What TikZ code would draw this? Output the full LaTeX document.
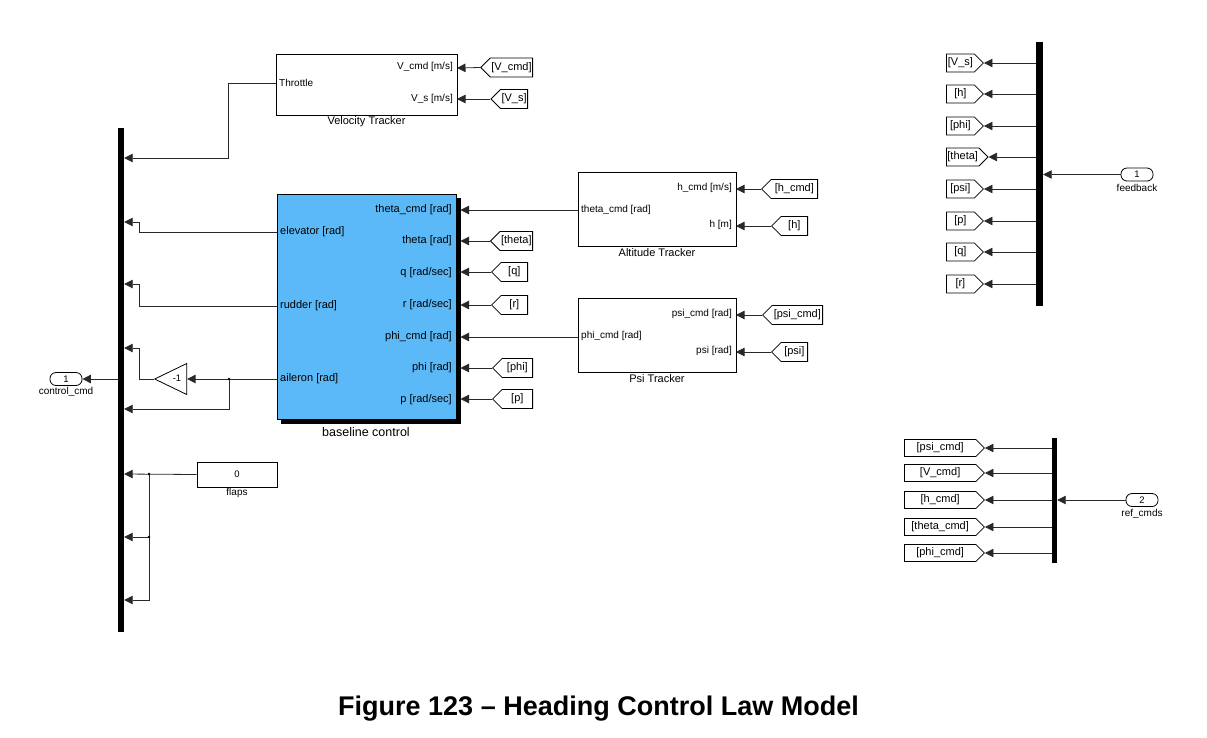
\documentclass[tikz,border=0pt]{standalone}
\usepackage{fontspec}
\setmainfont{Liberation Sans}
\usetikzlibrary{arrows.meta,shapes.symbols,shapes.geometric}
\definecolor{bcblue}{RGB}{92,185,248}
\definecolor{wire}{RGB}{40,40,40}
\begin{document}
\begin{tikzpicture}[x=1pt,y=-1pt,
  sig/.style={draw=wire,line width=0.8pt,-{Triangle[length=8.5pt,width=8.5pt]}},
  blk/.style={draw,line width=0.8pt,inner sep=0pt},
  bar/.style={fill=black,inner sep=0pt},
  small/.style={inner sep=1pt,font=\fontsize{10}{12}\selectfont},
  big/.style={inner sep=1pt,font=\fontsize{11}{13}\selectfont},
  lbl/.style={inner sep=1pt,font=\fontsize{11}{13}\selectfont},
  fromtag/.style={signal,signal to=west,signal from=nowhere,signal pointer angle=90,draw,line width=0.8pt,
     inner xsep=1pt,inner ysep=0pt,minimum height=19pt,font=\fontsize{11}{12}\selectfont,anchor=east},
  gototag/.style={signal,signal to=east,signal from=nowhere,signal pointer angle=90,draw,line width=0.8pt,
     inner xsep=1pt,inner ysep=0pt,minimum height=18pt,font=\fontsize{11}{12}\selectfont,anchor=west},
  port/.style={draw,line width=0.8pt,rounded corners=6pt,minimum width=32pt,minimum height=13pt,inner sep=0pt,
     font=\fontsize{9.5}{11}\selectfont}
]
\useasboundingbox (0,0) rectangle (1207,737);

% ---------- mux bars ----------
\node[bar,minimum width=6pt,minimum height=504pt] (mux1) at (121,380) {};
\node[bar,minimum width=7pt,minimum height=264pt] (mux2) at (1039.5,174) {};
\node[bar,minimum width=5pt,minimum height=125pt] (mux3) at (1054.5,500.5) {};

% ---------- Velocity Tracker ----------
\node[blk,minimum width=181pt,minimum height=61pt,anchor=north west] (vt) at (276,54) {};
\node[small,anchor=west] (vtl1) at (278,83) {Throttle};
\node[small,anchor=east] (vtl2) at (454,67) {V\_cmd [m/s]};
\node[small,anchor=east] (vtl3) at (454,99) {V\_s [m/s]};
\node[lbl] (vtn) at (366.5,121.5) {Velocity Tracker};
\coordinate (vtThr) at (276,83);
\coordinate (vtVc) at (457,68);
\coordinate (vtVs) at (457,99);

% ---------- baseline control ----------
\fill[black] (281,198) rectangle (460.5,423.5);
\node[blk,fill=bcblue,minimum width=179pt,minimum height=225pt,anchor=north west] (bc) at (277,194) {};
\node[big,anchor=east] (bl1) at (453,210) {theta\_cmd [rad]};
\node[big,anchor=east] (bl2) at (453,241) {theta [rad]};
\node[big,anchor=east] (bl3) at (453,272.5) {q [rad/sec]};
\node[big,anchor=east] (bl4) at (453,305) {r [rad/sec]};
\node[big,anchor=east] (bl5) at (453,336.5) {phi\_cmd [rad]};
\node[big,anchor=east] (bl6) at (453,368) {phi [rad]};
\node[big,anchor=east] (bl7) at (453,399.5) {p [rad/sec]};
\node[big,anchor=west] (bl8) at (279,231.5) {elevator [rad]};
\node[big,anchor=west] (bl9) at (279,305.5) {rudder [rad]};
\node[big,anchor=west] (bl10) at (279,378.5) {aileron [rad]};
\node[inner sep=1pt,font=\fontsize{12.5}{14}\selectfont] (bcn) at (366,432) {baseline control};
\coordinate (bcTc) at (460.5,210);
\coordinate (bcTh) at (460.5,241);
\coordinate (bcQ) at (460.5,272);
\coordinate (bcR) at (460.5,305);
\coordinate (bcPc) at (460.5,337);
\coordinate (bcPh) at (460.5,368);
\coordinate (bcP) at (460.5,399);
\coordinate (bcEl) at (277,232);
\coordinate (bcRu) at (277,306);
\coordinate (bcAi) at (277,379);

% ---------- Altitude Tracker ----------
\node[blk,minimum width=158pt,minimum height=74pt,anchor=north west] (at) at (578,172) {};
\node[small,anchor=east] (al1) at (733,188) {h\_cmd [m/s]};
\node[small,anchor=east] (al2) at (733,225) {h [m]};
\node[small,anchor=west] (al3) at (580,210) {theta\_cmd [rad]};
\node[lbl] (atn) at (657,252.5) {Altitude Tracker};
\coordinate (atOut) at (578,210);
\coordinate (atHc) at (736,189);
\coordinate (atH) at (736,226);

% ---------- Psi Tracker ----------
\node[blk,minimum width=158pt,minimum height=74pt,anchor=north west] (pt) at (578,298) {};
\node[small,anchor=east] (pl1) at (733,314) {psi\_cmd [rad]};
\node[small,anchor=east] (pl2) at (733,351) {psi [rad]};
\node[small,anchor=west] (pl3) at (580,336) {phi\_cmd [rad]};
\node[lbl] (ptn) at (657,378.5) {Psi Tracker};
\coordinate (ptOut) at (578,337);
\coordinate (ptPc) at (736,315);
\coordinate (ptP) at (736,352);

% ---------- From tags ----------
\node[fromtag,minimum width=46pt] (fVc) at (533,67.5) {[V\_cmd]};
\node[fromtag,minimum width=36pt] (fVs) at (528,99) {[V\_s]};
\node[fromtag,minimum width=40pt] (fTh) at (533,241) {[theta]};
\node[fromtag,minimum width=36pt] (fQ) at (528,272) {[q]};
\node[fromtag,minimum width=36pt] (fR) at (528,305) {[r]};
\node[fromtag,minimum width=40pt] (fPh) at (533,368) {[phi]};
\node[fromtag,minimum width=40pt] (fP) at (533,399) {[p]};
\node[fromtag,minimum width=56pt] (fHc) at (818,189) {[h\_cmd]};
\node[fromtag,minimum width=36pt] (fH) at (808,226) {[h]};
\node[fromtag,minimum width=60pt] (fPc) at (823,315) {[psi\_cmd]};
\node[fromtag,minimum width=36pt] (fPs) at (808,352) {[psi]};

% ---------- Goto tags (feedback) ----------
\node[gototag,minimum width=37pt] (g1) at (946,63) {[V\_s]};
\node[gototag,minimum width=37pt] (g2) at (946,94) {[h]};
\node[gototag,minimum width=37pt] (g3) at (946,126) {[phi]};
\node[gototag,minimum width=37pt] (g4) at (946,157) {[theta]};
\node[gototag,minimum width=37pt] (g5) at (946,189) {[psi]};
\node[gototag,minimum width=37pt] (g6) at (946,221) {[p]};
\node[gototag,minimum width=37pt] (g7) at (946,252) {[q]};
\node[gototag,minimum width=37pt] (g8) at (946,284) {[r]};

% ---------- Goto tags (ref_cmds) ----------
\node[gototag,minimum width=80pt,minimum height=17pt] (r1) at (904,448) {[psi\_cmd]};
\node[gototag,minimum width=80pt,minimum height=17pt] (r2) at (904,473) {[V\_cmd]};
\node[gototag,minimum width=80pt,minimum height=17pt] (r3) at (904,500) {[h\_cmd]};
\node[gototag,minimum width=80pt,minimum height=17pt] (r4) at (904,527) {[theta\_cmd]};
\node[gototag,minimum width=80pt,minimum height=17pt] (r5) at (904,553) {[phi\_cmd]};

% ---------- ports ----------
\node[port] (cc) at (66,379) {1};
\node[lbl,font=\fontsize{10}{12}\selectfont] (ccn) at (66,392) {control\_cmd};
\node[port] (fb) at (1137,174.5) {1};
\node[lbl,font=\fontsize{10}{12}\selectfont] (fbn) at (1137,188) {feedback};
\node[port] (rc) at (1142,500) {2};
\node[lbl,font=\fontsize{10}{12}\selectfont] (rcn) at (1142,514) {ref\_cmds};

% ---------- gain and constant ----------
\node[isosceles triangle,shape border rotate=180,isosceles triangle stretches,draw,line width=0.8pt,
  minimum width=31pt,minimum height=32pt,inner sep=0pt] (gain) at (177,379) {};
\node[inner sep=0pt,font=\fontsize{9.5}{11}\selectfont] (gainl) at (177,378) {-1};
\node[blk,minimum width=80pt,minimum height=25pt,font=\fontsize{9.5}{11}\selectfont] (flaps) at (237,474.5) {0};
\node[lbl,font=\fontsize{10}{12}\selectfont] (flapsn) at (237,493) {flaps};

% ---------- mux input points ----------
\coordinate (m1a) at (mux1.east |- 0,158);
\coordinate (m1b) at (mux1.east |- 0,222);
\coordinate (m1c) at (mux1.east |- 0,284);
\coordinate (m1d) at (mux1.east |- 0,348);
\coordinate (m1e) at (mux1.east |- 0,409);
\coordinate (m1f) at (mux1.east |- 0,474);
\coordinate (m1g) at (mux1.east |- 0,537);
\coordinate (m1h) at (mux1.east |- 0,600);
\coordinate (m1o) at (mux1.west |- 0,379);

% ---------- connectors ----------
\draw[sig] (vtThr) -- (228,83) -- (228,158) -- (m1a);
\draw[sig] (bcEl) -- (139,232) -- (139,222) -- (m1b);
\draw[sig] (bcRu) -- (139,306) -- (139,284) -- (m1c);
\draw[sig] (bcAi) -- (gain.east);
\draw[sig] (229,379) -- (229,409) -- (m1e);
\draw[sig] (gain.apex) -- (139,379) -- (139,348) -- (m1d);
\draw[sig] (flaps.west) -- (m1f);
\draw[sig] (149,474) -- (149,537) -- (m1g);
\draw[sig] (149,537) -- (149,600) -- (m1h);
\fill (229,379) circle (1.4pt);
\fill (149,474) circle (1.4pt);
\fill (149,537) circle (1.4pt);
\draw[sig] (m1o) -- (cc.east);

\draw[sig] (fVc.west) -- (vtVc);
\draw[sig] (fVs.west) -- (vtVs);
\draw[sig] (atOut) -- (bcTc);
\draw[sig] (fTh.west) -- (bcTh);
\draw[sig] (fQ.west) -- (bcQ);
\draw[sig] (fR.west) -- (bcR);
\draw[sig] (ptOut) -- (bcPc);
\draw[sig] (fPh.west) -- (bcPh);
\draw[sig] (fP.west) -- (bcP);
\draw[sig] (fHc.west) -- (atHc);
\draw[sig] (fH.west) -- (atH);
\draw[sig] (fPc.west) -- (ptPc);
\draw[sig] (fPs.west) -- (ptP);

\foreach \g in {g1,g2,g3,g4,g5,g6,g7,g8}{
  \draw[sig] (mux2.west |- \g.east) -- (\g.east);
}
\draw[sig] (fb.west) -- (mux2.east |- fb.west);
\foreach \g in {r1,r2,r3,r4,r5}{
  \draw[sig] (mux3.west |- \g.east) -- (\g.east);
}
\draw[sig] (rc.west) -- (mux3.east |- rc.west);

% ---------- caption ----------
\node[inner sep=0pt,font=\fontsize{27}{30}\selectfont\bfseries] (caption) at (598.5,708.5) {Figure 123 – Heading Control Law Model};
\end{tikzpicture}
\end{document}
